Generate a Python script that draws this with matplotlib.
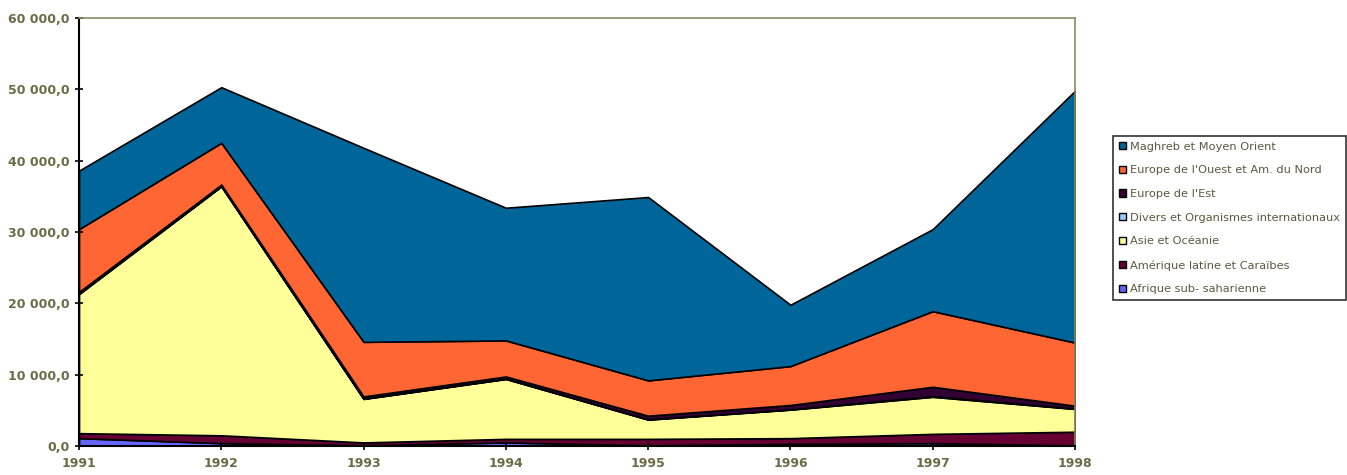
import matplotlib
matplotlib.use("Agg")
import matplotlib.pyplot as plt
import matplotlib.ticker as mtick
from matplotlib.patches import Patch

plt.rcParams["font.family"] = ["DejaVu Sans"]

years = [1991, 1992, 1993, 1994, 1995, 1996, 1997, 1998]

afrique = [1100, 400, 100, 500, 100, 300, 400, 100]
amerique = [700, 1100, 400, 500, 900, 800, 1300, 1900]
asie = [19500, 34900, 6100, 8400, 2700, 4000, 5200, 3200]
divers = [100, 50, 50, 50, 50, 50, 100, 50]
europeEst = [200, 200, 300, 300, 500, 600, 1300, 400]
europeOuest = [8800, 5850, 7650, 5050, 4950, 5450, 10600, 8850]
maghreb = [8200, 7800, 27200, 18600, 25700, 8600, 11500, 35300]

labels = [
    "Afrique sub- saharienne",
    "Amérique latine et Caraïbes",
    "Asie et Océanie",
    "Divers et Organismes internationaux",
    "Europe de l'Est",
    "Europe de l'Ouest et Am. du Nord",
    "Maghreb et Moyen Orient",
]
colors = ["#6666FF", "#660033", "#FFFF99", "#99CCFF", "#330033", "#FF6633", "#006699"]

yTicks = [0, 10000, 20000, 30000, 40000, 50000, 60000]
textColor = "#6b6b45"


def frenchFormat(v, pos):
    s = "{:,.1f}".format(v).replace(",", " ").replace(".", ",")
    return s


def main() -> None:
    fig = plt.figure(figsize=(13.47, 4.75), dpi=100)
    ax = fig.add_axes([79 / 1347, 1 - 446 / 475, (1075 - 79) / 1347, (446 - 18) / 475])

    ax.stackplot(years, afrique, amerique, asie, divers, europeEst, europeOuest, maghreb,
                 colors=colors, edgecolor="black", linewidth=1.2)

    ax.set_xlim(years[0], years[-1])
    ax.set_ylim(0, 60000)
    ax.set_xticks(years)
    ax.set_yticks(yTicks)
    ax.yaxis.set_major_formatter(mtick.FuncFormatter(frenchFormat))
    ax.tick_params(axis="both", direction="inout", length=6, width=1.2,
                   labelsize=9, labelcolor=textColor, color="black")
    ax.tick_params(axis="x", pad=5)
    for t in ax.get_xticklabels() + ax.get_yticklabels():
        t.set_fontweight("bold")

    for side in ["left", "bottom"]:
        ax.spines[side].set_color("black")
        ax.spines[side].set_linewidth(1.5)
    for side in ["top", "right"]:
        ax.spines[side].set_color("#8a8a60")
        ax.spines[side].set_linewidth(1.2)

    handles = [Patch(facecolor=c, edgecolor="black", linewidth=1) for c in colors]
    leg = fig.legend(handles[::-1], labels[::-1], loc="upper left",
                     bbox_to_anchor=(1113 / 1347, 1 - 136 / 475),
                     fontsize=8.2, frameon=True, fancybox=False, edgecolor="black",
                     handlelength=0.6, handleheight=0.6, handletextpad=0.4,
                     labelspacing=1.2, borderpad=0.5, borderaxespad=0)
    leg.get_frame().set_linewidth(1.2)
    for t in leg.get_texts():
        t.set_color("#5a5a40")

    fig.savefig("out.png", dpi=100)


if __name__ == "__main__":
    main()
